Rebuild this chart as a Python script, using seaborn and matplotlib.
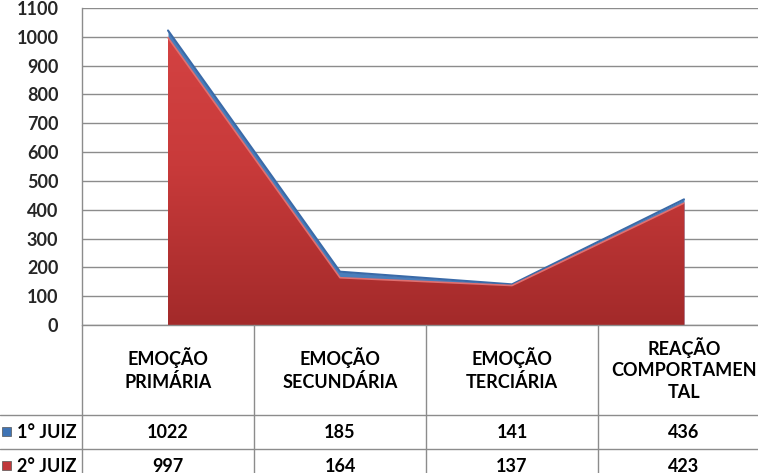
import numpy as np
import pandas as pd
import matplotlib
matplotlib.use("Agg")
import matplotlib.pyplot as plt
from matplotlib.colors import LinearSegmentedColormap
import seaborn as sns

categories = ["EMOÇÃO\nPRIMÁRIA", "EMOÇÃO\nSECUNDÁRIA", "EMOÇÃO\nTERCIÁRIA", "REAÇÃO\nCOMPORTAMEN\nTAL"]
series_names = ["1° JUIZ", "2° JUIZ"]
juiz1 = [1022, 185, 141, 436]
juiz2 = [997, 164, 137, 423]
y_ticks = list(range(0, 1101, 100))

sns.set_theme(style="white")
plt.rcParams['font.family'] = ['Lato', 'DejaVu Sans']

W, H = 758, 473
fig = plt.figure(figsize=(W / 100, H / 100), dpi=100)
fig.patch.set_facecolor("white")

# main plot area in pixels: left 82, right 770, top 8, bottom 325
L, R, T, B = 82, 770, 8, 325
ax = fig.add_axes([L / W, (H - B) / H, (R - L) / W, (B - T) / H])

df = pd.DataFrame({"cat": np.arange(len(categories)), "j1": juiz1, "j2": juiz2})
x = df["cat"].to_numpy()

grid_col = "#8c8c8c"

# blue area (behind)
ax.fill_between(x, 0, df["j1"], color="#4a7ebb", lw=0, zorder=2)
sns.lineplot(x=x, y=df["j1"], ax=ax, color="#3a6aa8", lw=1.5, zorder=3, legend=False)

# red area (front) with vertical gradient
red_poly = ax.fill_between(x, 0, df["j2"], color="#c0393b", lw=0, zorder=4)
grad = np.linspace(1, 0, 256).reshape(-1, 1)
cmap = LinearSegmentedColormap.from_list("rg", ["#a32a2a", "#c83a3a", "#d64444"])
im = ax.imshow(grad, extent=[-0.5, 3.5, 0, 1100], origin="upper", aspect="auto",
               cmap=cmap, zorder=5)
im.set_clip_path(red_poly.get_paths()[0], transform=ax.transData)
sns.lineplot(x=x, y=df["j2"], ax=ax, color="#e07070", lw=1.2, zorder=6, legend=False)

ax.set_xlim(-0.5, len(categories) - 0.5)
ax.set_ylim(0, 1100)
ax.set_yticks(y_ticks)
ax.set_xlabel("")
ax.set_ylabel("")
ax.yaxis.grid(True, color=grid_col, lw=1)
ax.set_axisbelow(True)
ax.set_xticks([])
for s in ["top", "right", "bottom"]:
    ax.spines[s].set_visible(False)
ax.spines["left"].set_color(grid_col)
ax.spines["left"].set_linewidth(1)
ax.tick_params(axis="y", length=0, pad=17, labelsize=13)
for lbl in ax.get_yticklabels():
    lbl.set_fontweight("bold")

# data table in pixel overlay
tab = fig.add_axes([0, 0, 1, 1])
tab.set_xlim(0, W)
tab.set_ylim(H, 0)
tab.axis("off")
tab.patch.set_alpha(0)
col_w = (R - L) / len(categories)
line_kw = dict(color=grid_col, lw=1)
tab.plot([L, W], [B, B], **line_kw)
tab.plot([0, W], [415, 415], **line_kw)
tab.plot([0, W], [449, 449], **line_kw)
for i in range(len(categories)):
    xb = L + col_w * i
    tab.plot([xb, xb], [B, H], **line_kw)

for i, c in enumerate(categories):
    xc = L + col_w * (i + 0.5)
    tab.text(xc, 369, c, ha="center", va="center", fontsize=13, fontweight="bold",
             linespacing=1.35, color="black")
    tab.text(xc, 432, str(juiz1[i]), ha="center", va="center", fontsize=13,
             fontweight="bold", color="black")
    tab.text(xc, 466, str(juiz2[i]), ha="center", va="center", fontsize=13,
             fontweight="bold", color="black")

# legend keys
for yk, name, col in [(432, series_names[0], "#3f74b5"), (466, series_names[1], "#c0393b")]:
    tab.add_patch(plt.Rectangle((2, yk - 5), 9, 9, facecolor=col, edgecolor="#555555", lw=0.5))
    tab.text(17, yk, name, ha="left", va="center", fontsize=13, fontweight="bold", color="black")

fig.savefig("out.png", dpi=100)
